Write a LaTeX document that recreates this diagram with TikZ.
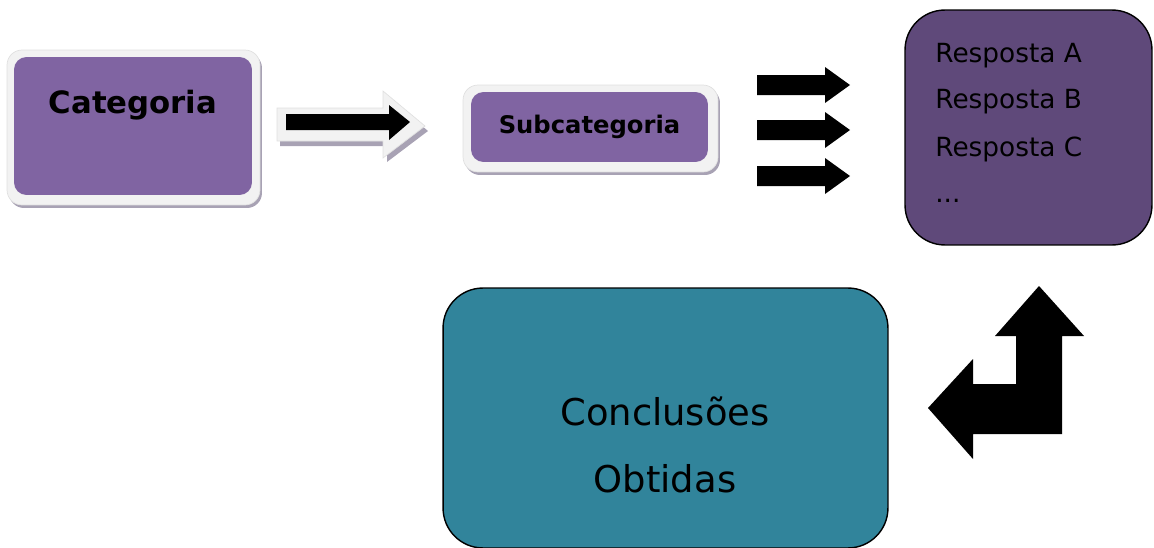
\documentclass[tikz,border=0pt]{standalone}
\usepackage{fontspec}
\setmainfont{DejaVu Sans}
\usepackage{tikz}
\usetikzlibrary{positioning, shadows}

\definecolor{lila}{HTML}{8064A2}
\definecolor{lilaescuro}{HTML}{5F497A}
\definecolor{azulpetroleo}{HTML}{31849B}
\definecolor{moldura}{HTML}{F2F2F2}
\definecolor{sombra}{HTML}{A8A2B4}

\tikzset{
  moldurabox/.style={rounded corners=0.3cm, fill=moldura, draw=black!12,
    drop shadow={fill=sombra, opacity=1, shadow xshift=0.04cm, shadow yshift=-0.06cm}},
  lilabox/.style={rounded corners=0.25cm, fill=lila, draw=none},
  respbox/.style={rounded corners=0.8cm, fill=lilaescuro, draw=black, line width=0.8pt},
  concbox/.style={rounded corners=0.8cm, fill=azulpetroleo, draw=black, line width=0.8pt},
  resptext/.style={anchor=west, font=\fontsize{15}{18}\selectfont, inner sep=0pt}
}

\begin{document}
\begin{tikzpicture}[x=0.02cm, y=-0.02cm]
\useasboundingbox (0,0) rectangle (1154,548);

% categoria
\node[moldurabox, minimum width=5.06cm, minimum height=3.1cm] (catframe) at (133.5,127.5) {};
\node[lilabox, minimum width=4.76cm, minimum height=2.76cm] (cat) at (133,126) {};
\node[font=\fontsize{17.5}{20}\selectfont\bfseries] (cattext) at (133,105) {Categoria};

% seta para a subcategoria
\fill[sombra] (280,112) -- (387,112) -- (387,96) -- (428,131) -- (387,162) -- (387,146) -- (280,146) -- cycle;
\filldraw[fill=moldura, draw=black!12] (277,108) -- (383,108) -- (383,91) -- (425,126) -- (383,158) -- (383,141) -- (277,141) -- cycle;
\fill[black] (286,114) -- (389,114) -- (389,105) -- (410,122) -- (389,140) -- (389,130) -- (286,130) -- cycle;

% subcategoria
\node[moldurabox, minimum width=5.1cm, minimum height=1.74cm] (subframe) at (590.5,128.5) {};
\node[lilabox, minimum width=4.74cm, minimum height=1.4cm, font=\fontsize{13.8}{16}\selectfont\bfseries] (sub) at (589.5,127) {Subcategoria};

% tres setas
\foreach \y in {85,130,176}
  \fill[black] (757,\y-10) -- (825,\y-10) -- (825,\y-18) -- (850,\y) -- (825,\y+18) -- (825,\y+10) -- (757,\y+10) -- cycle;

% respostas
\node[respbox, minimum width=4.94cm, minimum height=4.7cm] (resp) at (1028.5,127.5) {};
\node[resptext] (respA) at (935,56) {Resposta A};
\node[resptext] (respB) at (935,102) {Resposta B};
\node[resptext] (respC) at (935,149) {Resposta C};
\node[resptext] (respD) at (935,201) {...};

% conclusoes
\node[concbox, minimum width=8.9cm, minimum height=5.2cm] (conc) at (665.5,418) {};
\node[align=center, font=\fontsize{21}{38.5}\selectfont] (conctext) at (665,445) {Conclusões\\Obtidas};

% seta em L
\fill[black] (1039,286) -- (1084,336) -- (1062,336) -- (1062,434) -- (973,434) -- (973,459)
  -- (928,408) -- (973,359) -- (973,384) -- (1016,384) -- (1016,336) -- (995,336) -- cycle;
\end{tikzpicture}
\end{document}
